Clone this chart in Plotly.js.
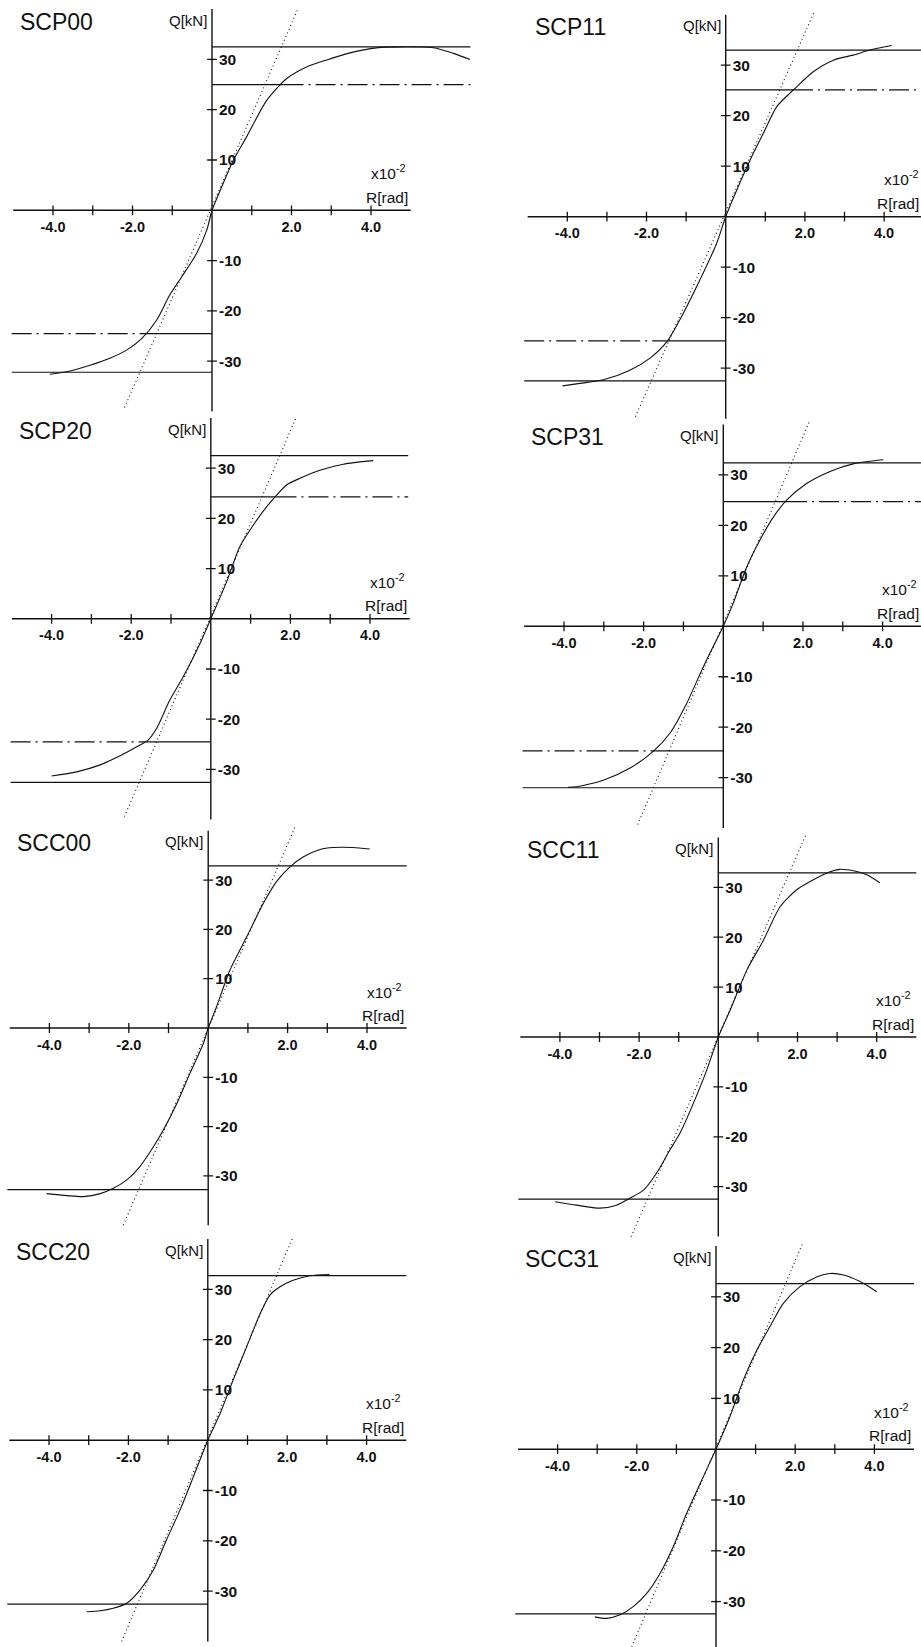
<!DOCTYPE html>
<html>
<head>
<meta charset="utf-8">
<script src="https://cdn.plot.ly/plotly-3.0.1.min.js"></script>
<style>
html,body{margin:0;padding:0;background:#fff;}
#chart{width:921px;height:1647px;}
</style>
</head>
<body>
<div id="chart"></div>
<script>
// ---------------- DATA ----------------
const panelNames = ['SCP00','SCP11','SCP20','SCP31','SCC00','SCC11','SCC20','SCC31'];

// Q-R envelope curves (R in 1e-2 rad, Q in kN)
const scp00_R = [-4.08,-3.66,-3.07,-2.57,-2.15,-1.77,-1.39,-1.06,-0.76,-0.385,-0.13,0,0.22,0.54,0.87,1.38,1.88,2.38,2.89,3.47,4.14,4.73,5.57,6.07,6.49];
const scp00_Q = [-32.6,-32.1,-30.8,-29.4,-27.8,-25.5,-21.8,-16.8,-13.2,-8.55,-3.9,0,4.2,10.0,14.6,21.9,26.2,28.5,29.9,31.3,32.3,32.5,32.3,31.2,30.0];
const scp11_R = [-4.12,-3.68,-3.09,-2.42,-1.91,-1.49,-1.07,-0.65,-0.23,0,0.28,0.70,0.95,1.29,1.75,2.21,2.72,3.22,3.64,4.19];
const scp11_Q = [-33.5,-33.0,-32.3,-30.4,-28.0,-24.8,-19.1,-12.5,-5.3,0,5.3,12.6,16.5,21.8,25.4,28.7,31.0,32.0,33.0,33.9];
const scp20_R = [-4.0,-3.37,-2.78,-2.28,-1.86,-1.57,-1.36,-1.03,-0.69,-0.27,0,0.40,0.73,1.07,1.40,1.66,1.91,2.24,2.74,3.33,4.08];
const scp20_Q = [-31.3,-30.5,-29.1,-27.3,-25.5,-24.1,-21.8,-16.2,-11.5,-4.9,0,7.4,14.4,18.7,22.3,24.7,26.7,28.0,29.6,30.8,31.5];
const scp31_R = [-3.9,-3.68,-3.01,-2.34,-1.76,-1.34,-0.92,-0.50,-0.17,0,0.25,0.59,0.92,1.26,1.59,2.09,2.68,3.26,4.02];
const scp31_Q = [-31.9,-31.8,-30.5,-28.1,-24.8,-21.2,-15.3,-8.0,-2.7,0,4.6,11.8,17.1,21.7,25.0,28.3,30.7,32.2,33.0];
const scc00_R = [-4.07,-3.56,-3.14,-2.72,-2.39,-2.05,-1.72,-1.38,-1.13,-0.79,-0.46,-0.12,0,0.21,0.55,0.97,1.39,1.72,2.06,2.39,2.82,3.15,3.65,4.07];
const scc00_Q = [-33.6,-34.0,-34.2,-33.6,-32.5,-30.8,-28.1,-24.1,-20.7,-15.3,-9.2,-3.1,0,4.3,11.8,18.5,25.3,29.7,32.7,34.7,36.2,36.6,36.6,36.3];
const scc11_R = [-4.12,-3.58,-2.99,-2.57,-2.23,-1.89,-1.56,-1.22,-0.97,-0.63,-0.29,0,0.30,0.72,1.14,1.56,1.98,2.40,2.82,3.07,3.41,3.75,4.08];
const scc11_Q = [-33.0,-33.7,-34.3,-33.7,-32.3,-30.7,-27.3,-22.6,-19.3,-13.3,-6.6,0,5.4,13.4,19.4,26.1,29.5,31.5,33.1,33.6,33.3,32.5,30.9];
const scc20_R = [-3.05,-2.71,-2.38,-2.04,-1.71,-1.37,-1.04,-0.70,-0.36,0,0.31,0.64,0.98,1.32,1.57,1.82,2.15,2.57,3.07];
const scc20_Q = [-34.1,-33.9,-33.4,-32.4,-29.8,-25.8,-19.8,-13.9,-7.2,0,5.3,12.0,18.6,25.2,28.9,30.5,31.8,32.7,33.0];
const scc31_R = [-3.06,-2.76,-2.42,-2.09,-1.75,-1.41,-1.08,-0.74,-0.32,0,0.35,0.69,1.03,1.36,1.70,2.12,2.54,2.88,3.22,3.64,4.06];
const scc31_Q = [-33.0,-33.3,-32.6,-31.0,-28.4,-24.4,-19.2,-12.6,-5.4,0,6.4,13.6,19.5,24.1,28.7,32.0,33.9,34.6,34.3,33.0,31.0];

// horizontal reference levels (kN)
const solidPos = [32.5, 33.0, 32.5, 32.4, 32.9, 32.9, 32.7, 32.6];
const solidNeg = [-32.2, -32.5, -32.6, -32.0, -32.8, -32.5, -32.6, -32.4];
const dashPos  = [25.0, 25.1, 24.3, 24.7, null, null, null, null];
const dashNeg  = [-24.5, -24.6, -24.5, -24.7, null, null, null, null];
// R where the dash-dot lines turn solid (toward the axis)
const dashPosSolidEnd   = [1.8, 1.7, 1.65, 1.6, null, null, null, null];
const dashNegSolidStart = [-1.64, -1.5, -1.6, -1.7, null, null, null, null];
// extents of the horizontal lines (R)
const posEnd   = [6.5, 5.0, 4.96, 5.0, 5.0, 5.0, 5.0, 5.0];
const negStart = [-5.04, -5.09, -5.03, -5.04, -5.06, -5.05, -5.05, -5.07];

// initial stiffness (dotted) line end points
const stiffRlo = [-2.2, -2.28, -2.17, -2.15, -2.14, -2.2, -2.17, -2.13];
const stiffQlo = [-39.2, -39.6, -39.4, -39.3, -40.0, -40.0, -40.0, -38.9];
const stiffRhi = [2.17, 2.22, 2.16, 2.15, 2.19, 2.21, 2.14, 2.19];
const stiffQhi = [40.2, 40.3, 40.4, 40.4, 40.8, 40.5, 40.3, 40.6];

// ticks
const xTickVals = [-4, -3, -2, -1, 1, 2, 3, 4];
const xLabelVals = [-4, -2, 2, 4];
const xLabelText = ['-4.0', '-2.0', '2.0', '4.0'];
const yTickVals = [-30, -20, -10, 10, 20, 30];
const yLabelText = ['-30', '-20', '-10', '10', '20', '30'];
const xAxisSpan = [-5, 5];
const yAxisSpan = [-40, 40];

const curvesR = [scp00_R, scp11_R, scp20_R, scp31_R, scc00_R, scc11_R, scc20_R, scc31_R];
const curvesQ = [scp00_Q, scp11_Q, scp20_Q, scp31_Q, scc00_Q, scc11_Q, scc20_Q, scc31_Q];

// ---------------- GEOMETRY (pixels) ----------------
const W = 921, H = 1647;
const geo = [
  {ox:212.0, oy:210.3,  sx:39.75, sy:5.03,  xr:[-5.1, 6.55]},
  {ox:725.7, oy:216.7,  sx:39.6,  sy:5.05,  xr:[-5.1, 5.2]},
  {ox:210.8, oy:618.8,  sx:39.8,  sy:5.02,  xr:[-5.1, 5.02]},
  {ox:723.3, oy:626.3,  sx:39.83, sy:5.045, xr:[-5.1, 5.2]},
  {ox:208.2, oy:1028.0, sx:39.7,  sy:4.93,  xr:[-5.1, 5.02]},
  {ox:718.3, oy:1037.0, sx:39.6,  sy:4.99,  xr:[-5.1, 5.2]},
  {ox:207.8, oy:1440.2, sx:39.7,  sy:5.03,  xr:[-5.1, 5.02]},
  {ox:716.0, oy:1449.2, sx:39.6,  sy:5.08,  xr:[-5.1, 5.2]}
];

const INK = '#111';
const FONT = 'Liberation Sans, Arial, Helvetica, sans-serif';

const traces = [];
const layout = {
  width: W, height: H,
  margin: {l:0, r:0, t:0, b:0},
  paper_bgcolor: '#fff', plot_bgcolor: 'rgba(0,0,0,0)',
  showlegend: false,
  font: {family: FONT, color: INK},
  shapes: [], annotations: []
};

geo.forEach((g, i) => {
  const sfx = i === 0 ? '' : String(i + 1);
  const xa = 'x' + sfx, ya = 'y' + sfx;

  const xmax = Math.min(g.xr[1], (W - g.ox) / g.sx - 0.001);
  const xmin = Math.max(g.xr[0], (0 - g.ox) / g.sx + 0.001);
  const ytop = Math.min(41, g.oy / g.sy - 0.001);
  const ybot = Math.max(-40.5, -(H - g.oy) / g.sy + 0.001);

  const xd = [(g.ox + xmin * g.sx) / W, (g.ox + xmax * g.sx) / W];
  const topPx = g.oy - ytop * g.sy, botPx = g.oy - ybot * g.sy;
  const yd = [(H - botPx) / H, (H - topPx) / H];

  layout['xaxis' + sfx] = {
    domain: xd, range: [xmin, xmax], anchor: 'free', position: (H - g.oy) / H,
    showgrid: false, zeroline: false, showline: false, ticks: '',
    tickmode: 'array', tickvals: xLabelVals, ticktext: xLabelText,
    tickfont: {family: FONT, size: 14.5, color: INK, weight: 'bold'},
    ticklabelstandoff: 6, fixedrange: true
  };
  layout['yaxis' + sfx] = {
    domain: yd, range: [ybot, ytop], anchor: 'free', position: g.ox / W, side: 'right',
    showgrid: false, zeroline: false, showline: false, ticks: '',
    tickmode: 'array', tickvals: yTickVals, ticktext: yLabelText,
    tickfont: {family: FONT, size: 15.5, color: INK, weight: 'bold'},
    ticklabelstandoff: 6, fixedrange: true
  };

  // axis lines
  layout.shapes.push({type:'line', xref:xa, yref:ya, x0:xAxisSpan[0], x1:xAxisSpan[1], y0:0, y1:0,
    line:{color:INK, width:1.4}});
  layout.shapes.push({type:'line', xref:xa, yref:ya, x0:0, x1:0, y0:yAxisSpan[0], y1:yAxisSpan[1],
    line:{color:INK, width:1.4}});

  // tick marks crossing the axes
  traces.push({
    type:'scatter', mode:'markers', xaxis:xa, yaxis:ya, hoverinfo:'skip',
    x: xTickVals.concat(yTickVals.map(() => 0)),
    y: xTickVals.map(() => 0).concat(yTickVals),
    marker: {symbol: xTickVals.map(() => 'line-ns').concat(yTickVals.map(() => 'line-ew')),
             size: 7, color: INK, line: {color: INK, width: 1.3}}
  });

  // solid horizontal strength lines
  traces.push({
    type:'scatter', mode:'lines', xaxis:xa, yaxis:ya, hoverinfo:'skip',
    x: [0, posEnd[i], null, negStart[i], 0],
    y: [solidPos[i], solidPos[i], null, solidNeg[i], solidNeg[i]],
    line: {color: INK, width: 1.2}
  });

  // dash-dot lines (solid part near the axis, dash-dot beyond)
  if (dashPos[i] !== null) {
    traces.push({
      type:'scatter', mode:'lines', xaxis:xa, yaxis:ya, hoverinfo:'skip',
      x: [0, dashPosSolidEnd[i], null, dashNegSolidStart[i], 0],
      y: [dashPos[i], dashPos[i], null, dashNeg[i], dashNeg[i]],
      line: {color: INK, width: 1.2}
    });
    traces.push({
      type:'scatter', mode:'lines', xaxis:xa, yaxis:ya, hoverinfo:'skip',
      x: [dashPosSolidEnd[i], posEnd[i], null, negStart[i], dashNegSolidStart[i]],
      y: [dashPos[i], dashPos[i], null, dashNeg[i], dashNeg[i]],
      line: {color: INK, width: 1.2, dash: '20px,5px,2px,5px'}
    });
  }

  // dotted initial-stiffness line
  traces.push({
    type:'scatter', mode:'lines', xaxis:xa, yaxis:ya, hoverinfo:'skip',
    x: [stiffRlo[i], stiffRhi[i]], y: [stiffQlo[i], stiffQhi[i]],
    line: {color: INK, width: 1.1, dash: '1px,3px'}
  });

  // envelope curve
  traces.push({
    type:'scatter', mode:'lines', xaxis:xa, yaxis:ya, hoverinfo:'skip',
    name: panelNames[i],
    x: curvesR[i], y: curvesQ[i],
    line: {color: INK, width: 1.1, shape: 'spline', smoothing: 0.7}
  });

  // texts
  const rightX = Math.min(4.98, xmax - 0.01);
  layout.annotations.push({xref:xa, yref:ya, x:-4.87, y:37.5, xanchor:'left', yanchor:'middle',
    text: panelNames[i], showarrow:false, font:{family:FONT, size:23, color:INK}});
  layout.annotations.push({xref:xa, yref:ya, x:-0.08, y:37.8, xanchor:'right', yanchor:'middle',
    text: 'Q[kN]', showarrow:false, font:{family:FONT, size:15, color:INK}});
  layout.annotations.push({xref:xa, yref:ya, x:Math.min(4.92, xmax - 0.01), y:7.6, xanchor:'right', yanchor:'middle',
    text: 'x10<sup>-2</sup>', showarrow:false, font:{family:FONT, size:15.5, color:INK}});
  layout.annotations.push({xref:xa, yref:ya, x:rightX, y:2.6, xanchor:'right', yanchor:'middle',
    text: 'R[rad]', showarrow:false, font:{family:FONT, size:15.5, color:INK}});
});

Plotly.newPlot('chart', traces, layout, {staticPlot: true, displayModeBar: false});
</script>
</body>
</html>
